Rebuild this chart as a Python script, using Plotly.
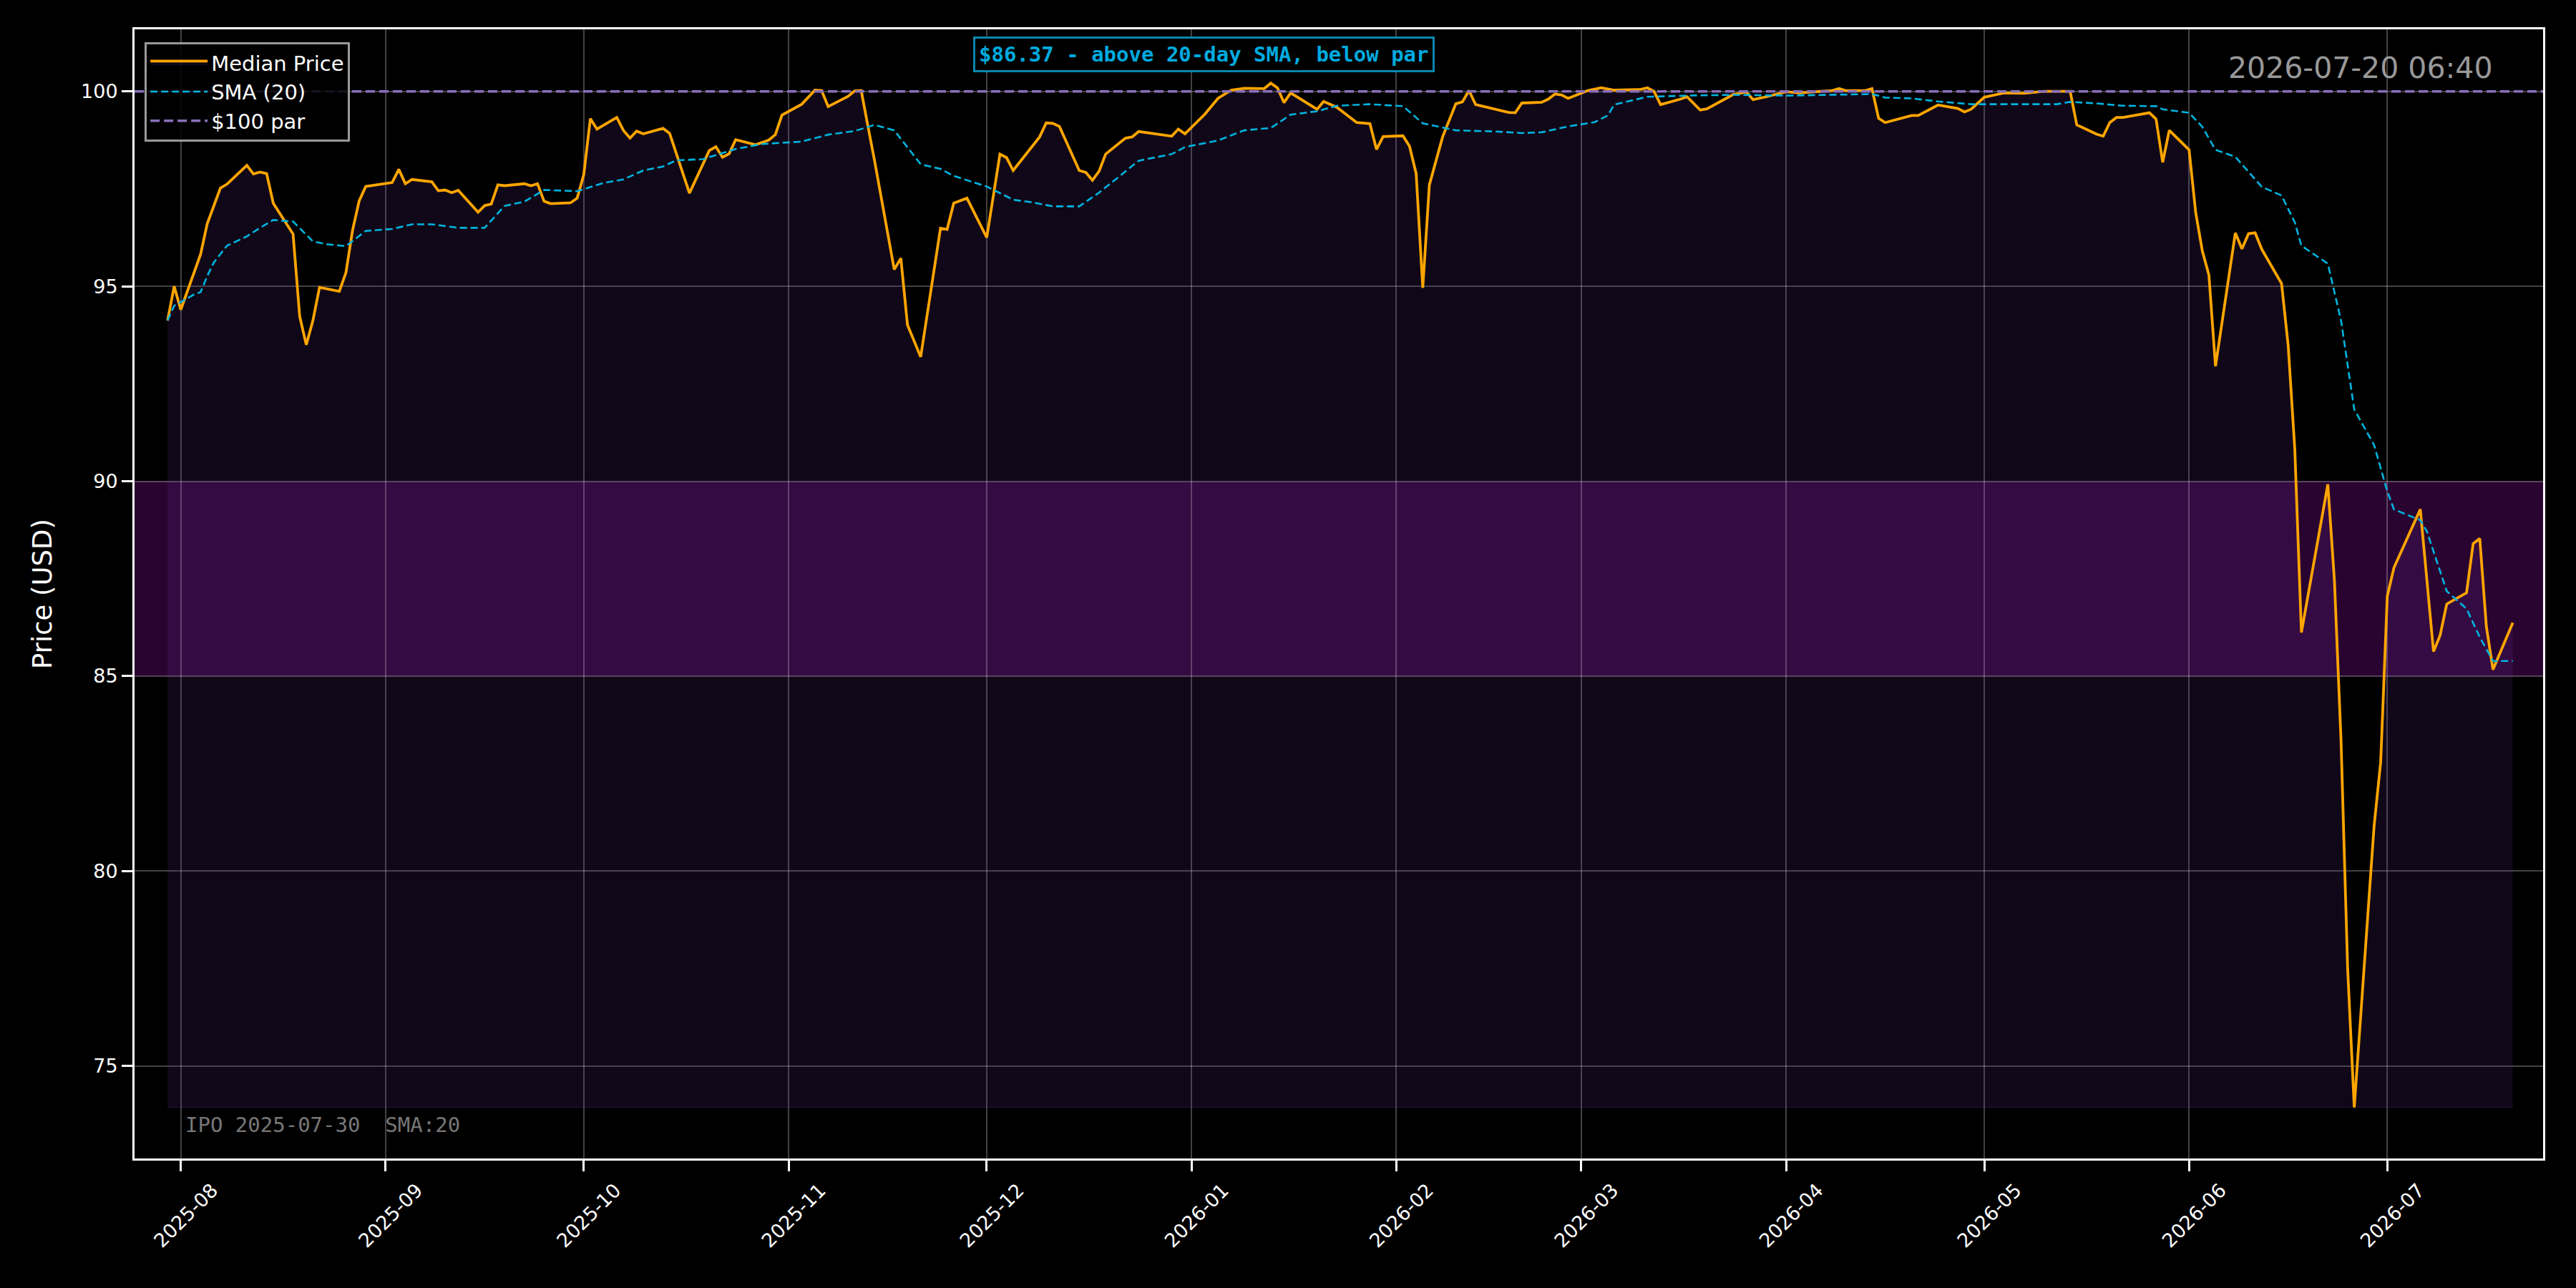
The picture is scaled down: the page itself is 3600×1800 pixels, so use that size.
import pandas as pd
import plotly.graph_objects as go

# ---------------- data ----------------
BASE_DATE = "2025-08-01"   # day offsets below are counted from this date

price_day = [-2, -1, 0, 3, 4, 5, 6, 7, 10, 11, 12, 13, 14, 17, 18, 19, 20, 21, 24, 25,
             26, 27, 28, 32, 33, 34, 35, 38, 39, 40, 41, 42, 45, 46, 47, 48, 49, 52, 53, 54,
             55, 56, 59, 60, 61, 62, 63, 66, 67, 68, 69, 70, 73, 74, 77, 80, 81, 82, 83, 84,
             87, 89, 90, 91, 94, 96, 97, 98, 101, 102, 103, 104, 105, 108, 109, 110, 112, 115, 116, 117,
             119, 122, 124, 125, 126, 130, 131, 132, 133, 136, 137, 138, 139, 140, 143, 144, 145, 150, 151, 152,
             155, 157, 159, 161, 164, 165, 166, 167, 168, 172, 173, 175, 178, 180, 181, 182, 185, 186, 187, 188,
             189, 191, 193, 194, 195, 196, 201, 202, 203, 206, 207, 208, 209, 210, 213, 215, 217, 221, 222, 223,
             224, 227, 228, 230, 231, 235, 237, 238, 240, 243, 245, 250, 251, 252, 255, 256, 257, 258, 262, 263,
             266, 269, 270, 271, 273, 276, 279, 282, 286, 287, 290, 291, 292, 293, 294, 298, 299, 300, 301, 304,
             305, 306, 307, 308, 311, 312, 313, 314, 315, 318, 319, 320, 321, 325, 326, 327, 328, 329, 330, 332,
             333, 334, 335, 339, 341, 342, 343, 346, 347, 348, 349, 350, 353]
price_val = [94.12, 95.00, 94.40, 95.82, 96.60, 97.07, 97.52, 97.62, 98.10, 97.88, 97.93, 97.89, 97.13, 96.34, 94.23, 93.50, 94.12, 94.97, 94.87, 95.35,
             96.43, 97.19, 97.56, 97.66, 98.00, 97.63, 97.74, 97.68, 97.45, 97.47, 97.40, 97.46, 96.90, 97.07, 97.11, 97.60, 97.58, 97.63, 97.58, 97.63,
             97.18, 97.12, 97.14, 97.26, 97.86, 99.30, 99.03, 99.33, 99.00, 98.80, 98.98, 98.91, 99.05, 98.92, 97.39, 98.48, 98.58, 98.31, 98.40, 98.76,
             98.63, 98.75, 98.89, 99.39, 99.67, 100.03, 100.02, 99.61, 99.87, 100.01, 100.02, 99.12, 98.24, 95.43, 95.72, 94.01, 93.19, 96.49, 96.46, 97.13,
             97.26, 96.25, 98.39, 98.30, 97.97, 98.83, 99.19, 99.18, 99.10, 97.97, 97.92, 97.72, 97.95, 98.39, 98.80, 98.83, 98.97, 98.85, 99.03, 98.91,
             99.41, 99.82, 100.03, 100.08, 100.07, 100.21, 100.09, 99.71, 99.96, 99.54, 99.74, 99.59, 99.20, 99.17, 98.51, 98.84, 98.86, 98.59, 97.89, 94.96,
             97.60, 98.83, 99.68, 99.73, 100.02, 99.66, 99.46, 99.45, 99.70, 99.72, 99.80, 99.93, 99.91, 99.82, 100.02, 100.09, 100.03, 100.05, 100.09, 100.00,
             99.66, 99.80, 99.86, 99.52, 99.55, 99.92, 99.98, 99.79, 99.86, 99.99, 99.96, 100.02, 100.07, 100.02, 100.02, 100.07, 99.31, 99.20, 99.38, 99.38,
             99.65, 99.56, 99.47, 99.54, 99.85, 99.96, 99.95, 100.00, 100.00, 99.14, 98.90, 98.85, 99.20, 99.33, 99.33, 99.45, 99.29, 98.18, 99.00, 98.50,
             96.89, 95.91, 95.29, 92.95, 96.37, 95.96, 96.35, 96.37, 95.95, 95.07, 93.48, 90.83, 86.12, 89.92, 87.45, 83.34, 77.50, 73.94, 76.41, 81.15,
             82.80, 87.05, 87.78, 89.28, 85.63, 86.05, 86.85, 87.14, 88.40, 88.53, 86.27, 85.17, 86.37]

sma_day = [-2, -1, 2, 3, 4, 5, 7, 10, 12, 14, 17, 20, 22, 25, 28, 32, 35, 38, 42, 46,
           49, 52, 55, 60, 64, 67, 70, 73, 75, 79, 84, 88, 94, 98, 102, 105, 108, 112, 115, 117,
           122, 126, 129, 132, 136, 139, 145, 150, 152, 157, 161, 165, 168, 172, 175, 180, 185, 188, 193, 199,
           203, 206, 210, 214, 216, 217, 222, 228, 235, 243, 256, 258, 262, 266, 271, 276, 284, 286, 290, 294,
           299, 300, 304, 306, 308, 311, 315, 318, 320, 321, 325, 327, 329, 332, 334, 335, 339, 340, 343, 346,
           348, 350, 353]
sma_val = [94.12, 94.50, 94.79, 94.85, 95.26, 95.61, 96.04, 96.28, 96.50, 96.70, 96.66, 96.15, 96.08, 96.03, 96.42, 96.47, 96.59, 96.59, 96.50, 96.50,
           97.06, 97.17, 97.47, 97.44, 97.65, 97.74, 97.97, 98.07, 98.23, 98.26, 98.52, 98.65, 98.71, 98.89, 98.98, 99.14, 99.00, 98.13, 98.01, 97.83,
           97.56, 97.22, 97.15, 97.05, 97.05, 97.40, 98.22, 98.39, 98.57, 98.74, 99.00, 99.06, 99.40, 99.49, 99.63, 99.67, 99.62, 99.18, 99.00, 98.97,
           98.93, 98.95, 99.10, 99.21, 99.38, 99.66, 99.86, 99.89, 99.91, 99.89, 99.93, 99.84, 99.82, 99.74, 99.67, 99.67, 99.67, 99.73, 99.69, 99.63,
           99.62, 99.54, 99.45, 99.09, 98.50, 98.32, 97.55, 97.33, 96.64, 96.04, 95.58, 94.12, 91.84, 90.93, 89.74, 89.28, 89.00, 88.71, 87.18, 86.73,
           86.00, 85.39, 85.39]

PAR_VALUE = 100
BAND_LOW, BAND_HIGH = 85, 90
Y_TICKS = [75, 80, 85, 90, 95, 100]
X_RANGE = ["2025-07-25", "2026-07-24 14:00"]
Y_RANGE = [72.63, 101.59]

LAST_NOTE = "$86.37 - above 20-day SMA, below par"
STAMP = "2026-07-20 06:40"
FOOTNOTE = "IPO 2025-07-30  SMA:20"

# ---------------- build ----------------
base = pd.Timestamp(BASE_DATE)
price_x = [base + pd.Timedelta(days=d) for d in price_day]
sma_x = [base + pd.Timedelta(days=d) for d in sma_day]
floor_val = min(price_val)

fig = go.Figure()

# baseline for the shaded area under the price line
fig.add_trace(go.Scatter(x=price_x, y=[floor_val] * len(price_x), mode="lines",
                         line=dict(color="rgba(130,65,200,0.14)", width=2),
                         showlegend=False, hoverinfo="skip"))
fig.add_trace(go.Scatter(x=price_x, y=price_val, mode="lines", name="Median Price",
                         line=dict(color="#FFA500", width=3.8),
                         fill="tonexty", fillcolor="rgba(130,65,200,0.12)"))
fig.add_trace(go.Scatter(x=sma_x, y=sma_val, mode="lines", name="SMA (20)",
                         line=dict(color="#00B4E0", width=2.6, dash="10px,5px")))
fig.add_trace(go.Scatter(x=X_RANGE, y=[PAR_VALUE, PAR_VALUE], mode="lines", name="$100 par",
                         line=dict(color="#8A6FBA", width=3.5, dash="13px,6px")))

# 85-90 band across full width
fig.add_shape(type="rect", xref="paper", x0=0, x1=1, yref="y", y0=BAND_LOW, y1=BAND_HIGH,
              fillcolor="rgba(140,14,158,0.30)", line=dict(width=0), layer="below")

axis_common = dict(showline=True, linecolor="white", linewidth=3, mirror=True,
                   ticks="outside", ticklen=15, tickwidth=2.5, tickcolor="white",
                   tickfont=dict(family="DejaVu Sans", size=27, color="white"),
                   showgrid=True, gridcolor="rgba(255,255,255,0.26)", gridwidth=2,
                   zeroline=False)

fig.update_xaxes(type="date", range=X_RANGE, tick0="2025-08-01", dtick="M1",
                 tickformat="%Y-%m", tickangle=-45, ticklabelshift=44, **axis_common)
fig.update_yaxes(range=Y_RANGE, tickvals=Y_TICKS, ticktext=[str(v) for v in Y_TICKS],
                 title=dict(text="Price (USD)", font=dict(family="DejaVu Sans", size=37, color="white"),
                            standoff=30),
                 **axis_common)

fig.add_annotation(xref="paper", yref="paper", x=0.444, y=0.978, xanchor="center", yanchor="middle",
                   text=f"<b>{LAST_NOTE}</b>", showarrow=False,
                   font=dict(family="DejaVu Sans Mono", size=29, color="#00AADF"),
                   bgcolor="#000000", bordercolor="#0A86AD", borderwidth=3, borderpad=5)
fig.add_annotation(xref="paper", yref="paper", x=0.9795, y=0.966, xanchor="right", yanchor="middle",
                   text=STAMP, showarrow=False,
                   font=dict(family="DejaVu Sans", size=41, color="#999999"))
fig.add_annotation(xref="paper", yref="paper", x=0.0205, y=0.0298, xanchor="left", yanchor="middle",
                   text=FOOTNOTE, showarrow=False,
                   font=dict(family="DejaVu Sans Mono", size=29, color="#777777"))

fig.update_layout(
    width=3600, height=1800,
    margin=dict(l=188, r=46, t=41, b=181),
    paper_bgcolor="#000000", plot_bgcolor="#000000",
    font=dict(family="DejaVu Sans", color="white"),
    showlegend=True,
    legend=dict(x=0.0042, y=0.9886, xanchor="left", yanchor="top", traceorder="normal",
                bgcolor="rgba(0,0,0,0.85)", bordercolor="#9a9a9a", borderwidth=3,
                font=dict(family="DejaVu Sans", size=29, color="white"),
                itemwidth=80, tracegroupgap=0),
)

fig.write_html("out.html")
